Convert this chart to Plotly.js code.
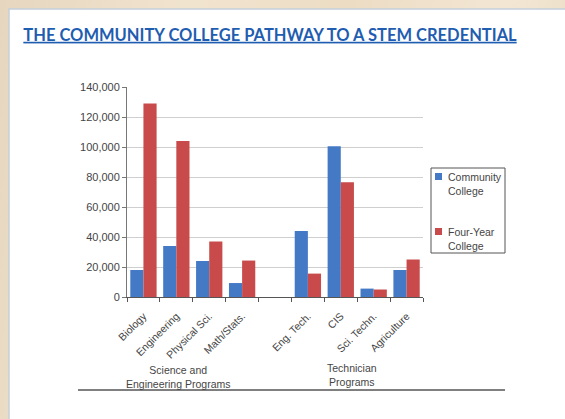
<!DOCTYPE html>
<html>
<head>
<meta charset="utf-8">
<script src="https://cdn.plot.ly/plotly-3.0.1.min.js"></script>
<style>
  html, body { margin: 0; padding: 0; }
  body {
    width: 565px; height: 419px; overflow: hidden;
    background: linear-gradient(100deg, #e6d6bf 0%, #f1e4cf 30%, #ecdcc4 55%, #f3e7d4 80%, #e8d8c0 100%);
  }
  #chart { width: 565px; height: 419px; }
</style>
</head>
<body>
<div id="chart"></div>
<script>
// Categories (blank slot separates the two program groups)
const categories = ['Biology', 'Engineering', 'Physical Sci.', 'Math/Stats.', ' ', 'Eng. Tech.', 'CIS', 'Sci. Techn.', 'Agriculture'];
const communityCollege = [18000, 34000, 24000, 9300, null, 44000, 100500, 5600, 18000];
const fourYearCollege = [129000, 104000, 37000, 24300, null, 15600, 76500, 5000, 25000];
const seriesNames = ['Community<br>College', 'Four-Year<br>College'];
const seriesColors = ['#4479c6', '#c84a4a'];
const groupLabels = ['Science and<br>Engineering Programs', 'Technician<br>Programs'];
const yTickVals = [0, 20000, 40000, 60000, 80000, 100000, 120000, 140000];

const textColor = '#454545';
const fontFam = '"Liberation Sans", Arial, sans-serif';
const fs = 10.5;

const traces = [
  { type: 'bar', x: categories, y: communityCollege, name: seriesNames[0],
    marker: { color: seriesColors[0] }, hoverinfo: 'x+y' },
  { type: 'bar', x: categories, y: fourYearCollege, name: seriesNames[1],
    marker: { color: seriesColors[1] }, hoverinfo: 'x+y' }
];

// pixel helpers (plot area: x 127..423, y 87..297)
const L = 127, R = 423, T = 87, B = 297;
const px = v => (v - L) / (R - L);
const py = v => (B - v) / (B - T);

// compact boxed legend (drawn with shapes + annotations)
const legendShapes = [
  { type: 'rect', xref: 'paper', yref: 'paper', x0: px(431), x1: px(505), y0: py(253), y1: py(168),
    fillcolor: '#ffffff', line: { color: '#555', width: 1 } },
  { type: 'rect', xref: 'paper', yref: 'paper', x0: px(435), x1: px(442), y0: py(180), y1: py(173),
    fillcolor: seriesColors[0], line: { width: 0 } },
  { type: 'rect', xref: 'paper', yref: 'paper', x0: px(435), x1: px(442), y0: py(235), y1: py(228),
    fillcolor: seriesColors[1], line: { width: 0 } }
];
const legendTexts = [
  { xref: 'paper', yref: 'paper', x: px(446), y: py(169), text: seriesNames[0], align: 'left',
    showarrow: false, xanchor: 'left', yanchor: 'top', font: { family: fontFam, size: fs, color: textColor } },
  { xref: 'paper', yref: 'paper', x: px(446), y: py(224), text: seriesNames[1], align: 'left',
    showarrow: false, xanchor: 'left', yanchor: 'top', font: { family: fontFam, size: fs, color: textColor } }
];

const layout = {
  width: 565, height: 419,
  margin: { l: L, r: 565 - R, t: T, b: 419 - B, pad: 0 },
  paper_bgcolor: 'rgba(0,0,0,0)',
  plot_bgcolor: 'rgba(0,0,0,0)',
  font: { family: fontFam, size: fs, color: textColor },
  title: {
    text: '<u>THE COMMUNITY COLLEGE PATHWAY TO A STEM CREDENTIAL</u>',
    font: { family: 'Lato, "Open Sans", sans-serif', size: 16.5, color: '#1f5db1', weight: 'bold' },
    xref: 'paper', x: px(270), xanchor: 'center',
    yref: 'container', y: 1 - 35 / 419, yanchor: 'middle'
  },
  barmode: 'group',
  bargap: 0.2,
  bargroupgap: 0,
  showlegend: false,
  xaxis: {
    type: 'category', categoryorder: 'array', categoryarray: categories,
    tickangle: -45, tickson: 'boundaries', ticks: 'outside', ticklen: 4, tickcolor: '#555',
    ticklabelstandoff: 8,
    showline: true, linecolor: '#555', linewidth: 1,
    showgrid: false, zeroline: false,
    tickfont: { family: fontFam, size: fs, color: textColor },
    fixedrange: true
  },
  yaxis: {
    range: [0, 140000], tickvals: yTickVals, tickformat: ',d',
    ticks: 'outside', ticklen: 4, tickcolor: '#777',
    showline: true, linecolor: '#777', linewidth: 1,
    showgrid: true, gridcolor: '#cfcfcf', gridwidth: 1,
    zeroline: false,
    tickfont: { family: fontFam, size: 11, color: textColor },
    fixedrange: true
  },
  shapes: [
    { type: 'rect', xref: 'paper', yref: 'paper', layer: 'below',
      x0: px(9), x1: px(570), y0: py(425), y1: py(9),
      fillcolor: '#ffffff', line: { color: '#c3d0dc', width: 1.5 } },
    { type: 'line', xref: 'paper', yref: 'paper',
      x0: px(78), x1: px(505), y0: py(390), y1: py(390),
      line: { color: '#555', width: 1.5 } }
  ].concat(legendShapes),
  annotations: [
    { xref: 'paper', yref: 'paper', x: px(178), y: py(377), text: groupLabels[0],
      showarrow: false, xanchor: 'center', yanchor: 'middle',
      font: { family: fontFam, size: fs, color: textColor } },
    { xref: 'paper', yref: 'paper', x: px(352), y: py(375), text: groupLabels[1],
      showarrow: false, xanchor: 'center', yanchor: 'middle',
      font: { family: fontFam, size: fs, color: textColor } }
  ].concat(legendTexts)
};

Plotly.newPlot('chart', traces, layout, { displayModeBar: false, responsive: false });
</script>
</body>
</html>
